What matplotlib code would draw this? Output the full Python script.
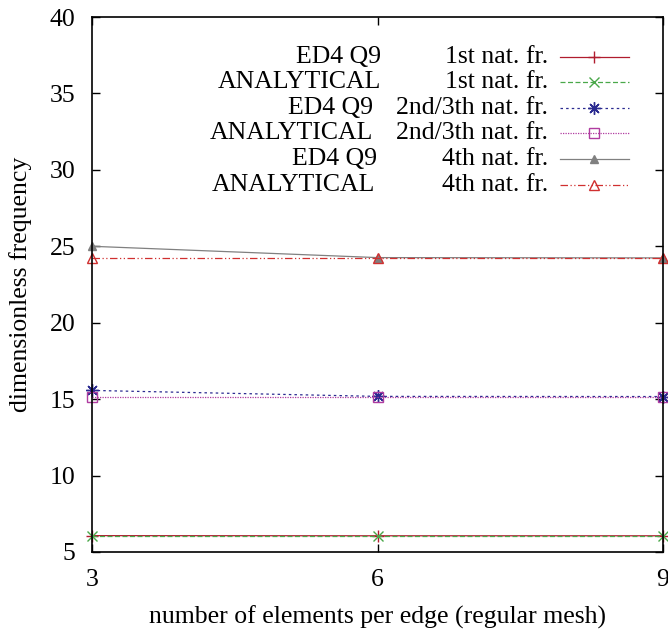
import matplotlib
matplotlib.use("Agg")
import matplotlib.pyplot as plt

# number of elements per edge
mesh = [3, 6, 9]

# dimensionless frequencies
ed4_1st = [6.07, 6.06, 6.06]
ana_1st = [6.06, 6.06, 6.06]
ed4_2nd = [15.57, 15.18, 15.17]
ana_2nd = [15.17, 15.17, 15.17]
ed4_4th = [25.0, 24.26, 24.24]
ana_4th = [24.24, 24.24, 24.24]

models = ["ED4 Q9", "ANALYTICAL", "ED4 Q9", "ANALYTICAL", "ED4 Q9", "ANALYTICAL"]
modes = ["1st nat. fr.", "1st nat. fr.", "2nd/3th nat. fr.", "2nd/3th nat. fr.",
         "4th nat. fr.", "4th nat. fr."]

plt.rcParams["font.family"] = ["Liberation Serif", "DejaVu Serif"]
plt.rcParams["font.size"] = 18.5

fig = plt.figure(figsize=(6.68, 6.30), dpi=100)
ax = fig.add_axes([92 / 668, 1 - 552 / 630, 571 / 668, 535 / 630])

series = [ed4_1st, ana_1st, ed4_2nd, ana_2nd, ed4_4th, ana_4th]
styles = [
    dict(color="#b01c2e", ls="-", marker="+", mfc="none", ms=8),
    dict(color="#4aa84a", ls=(0, (4, 2)), marker="x", mfc="none", ms=7),
    dict(color="#2a2a90", ls=(0, (2, 2.5)), marker=(8, 2, 0), mfc="none", ms=9),
    dict(color="#b03ca0", ls=(0, (1, 1)), marker="s", mfc="none", ms=7),
    dict(color="#808080", ls="-", marker="^", mfc="#808080", ms=6),
    dict(color="#d03030", ls=(0, (6, 2, 1, 2, 1, 2)), marker="^", mfc="none", ms=7),
]

for vals, st in zip(series, styles):
    ax.plot(mesh, vals, lw=0.9, mew=1.0, clip_on=False, **st)

ax.set_xlim(3, 9)
ax.set_ylim(5, 40)
ax.set_xticks(mesh)
ax.set_yticks(range(5, 41, 5))
ax.tick_params(direction="in", length=6, width=1.0, top=True, right=True)
ax.tick_params(axis="x", pad=12)
ax.tick_params(axis="y", pad=12)
for s in ax.spines.values():
    s.set_linewidth(1.2)

ax.set_xlabel("number of elements per edge (regular mesh)", labelpad=11)
ax.set_ylabel("dimensionless frequency", labelpad=13)

# gnuplot style key, drawn by hand
row0 = 0.9258
step = 0.04785
model_right = [0.506, 0.506, 0.492, 0.492, 0.499, 0.496]
for i, st in enumerate(styles):
    y = row0 - i * step
    ax.text(model_right[i], y, models[i], transform=ax.transAxes,
            ha="right", va="center")
    ax.text(0.7986, y, modes[i], transform=ax.transAxes,
            ha="right", va="center")
    ax.plot([0.8196, 0.879, 0.9405], [y, y, y], transform=ax.transAxes,
            lw=0.9, mew=1.0, markevery=[1], **st)

fig.savefig("out.png", dpi=100)
